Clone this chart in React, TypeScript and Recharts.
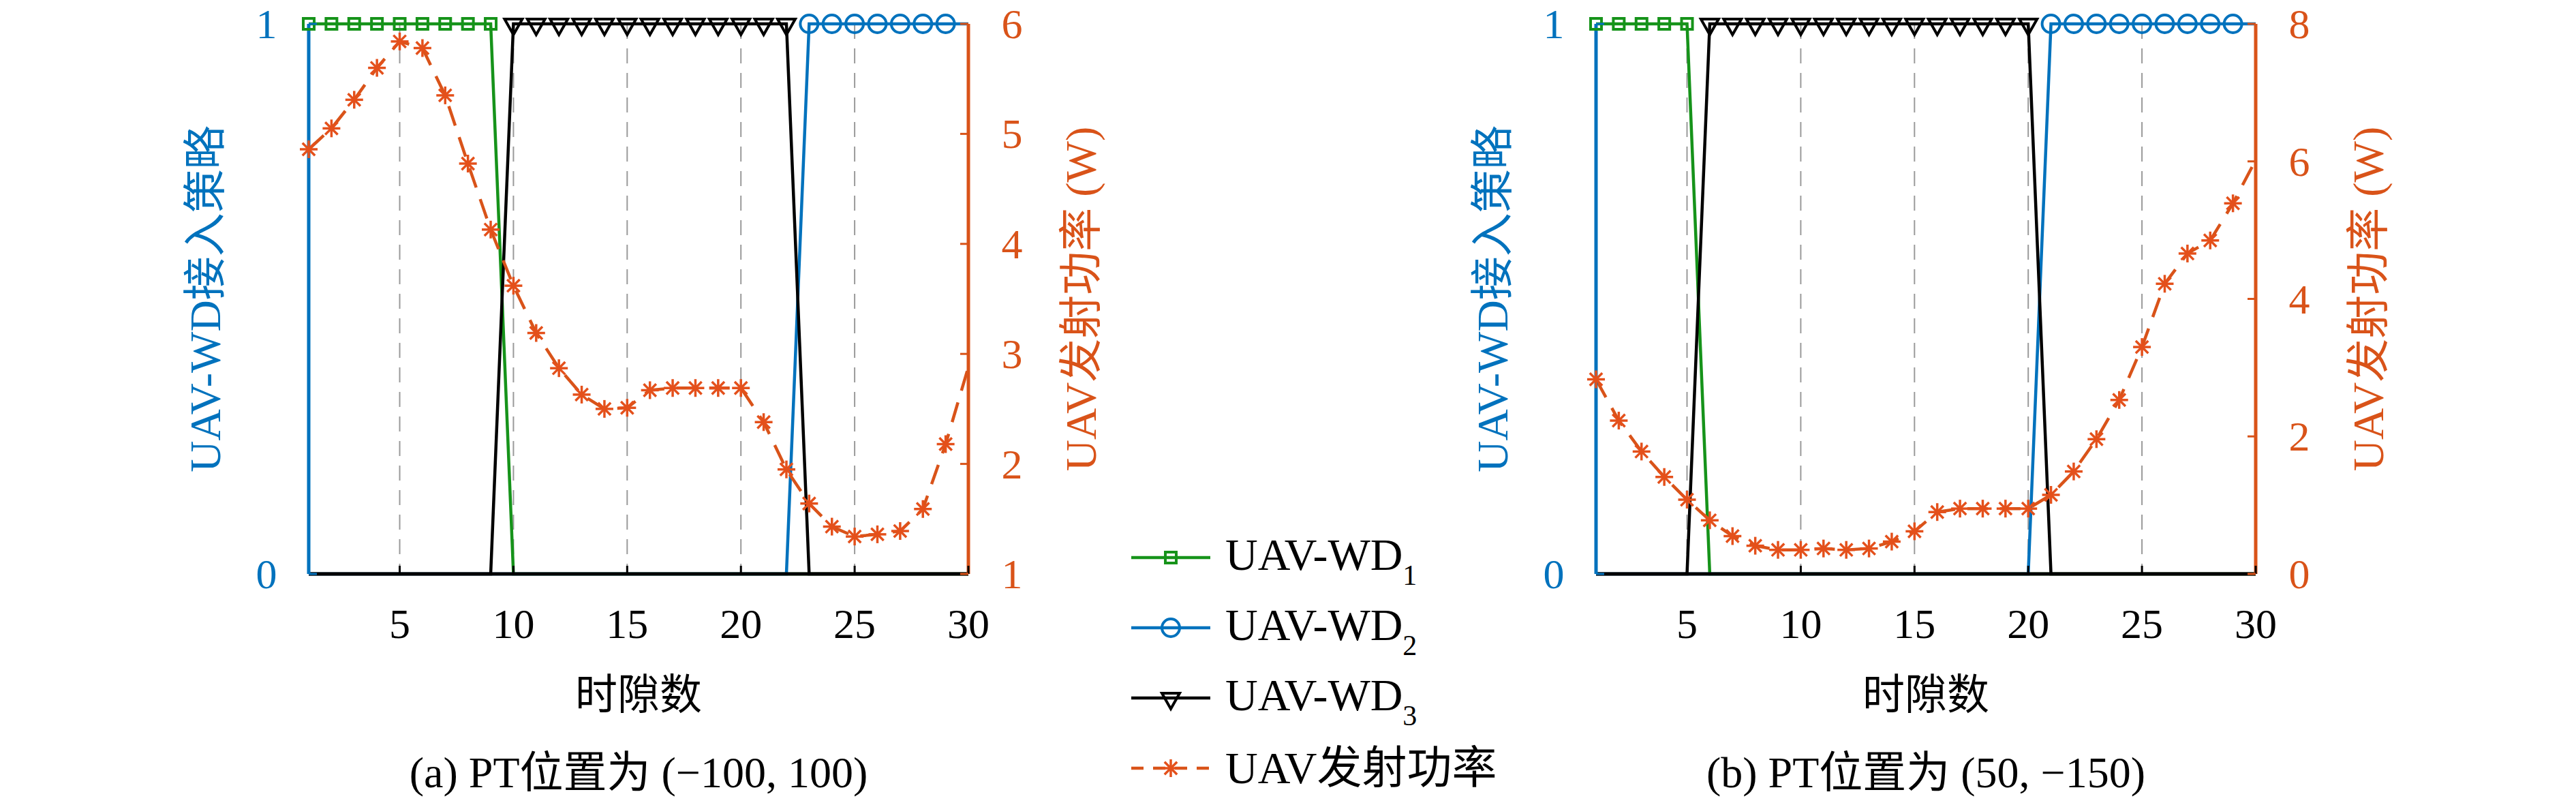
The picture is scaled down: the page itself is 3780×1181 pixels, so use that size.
import React from "react";
import {
  ComposedChart,
  Line,
  XAxis,
  YAxis,
  CartesianGrid,
  Legend,
  Label,
} from "recharts";

// time slots 1..30
const SLOTS = [
  1, 2, 3, 4, 5, 6, 7, 8, 9, 10, 11, 12, 13, 14, 15, 16, 17, 18, 19, 20, 21,
  22, 23, 24, 25, 26, 27, 28, 29, 30,
];

// (a) PT at (-100, 100)
const WD1_A = [1, 1, 1, 1, 1, 1, 1, 1, 1, 0, 0, 0, 0, 0, 0, 0, 0, 0, 0, 0, 0, 0, 0, 0, 0, 0, 0, 0, 0, 0];
const WD2_A = [0, 0, 0, 0, 0, 0, 0, 0, 0, 0, 0, 0, 0, 0, 0, 0, 0, 0, 0, 0, 0, 0, 1, 1, 1, 1, 1, 1, 1, 1];
const WD3_A = [0, 0, 0, 0, 0, 0, 0, 0, 0, 1, 1, 1, 1, 1, 1, 1, 1, 1, 1, 1, 1, 1, 0, 0, 0, 0, 0, 0, 0, 0];
const POWER_A = [
  4.86, 5.05, 5.31, 5.6, 5.84, 5.78, 5.35, 4.73, 4.13, 3.62, 3.19, 2.87, 2.63,
  2.5, 2.51, 2.67, 2.69, 2.69, 2.69, 2.69, 2.38, 1.95, 1.64, 1.43, 1.34, 1.36,
  1.39, 1.59, 2.18, 2.88,
];

// (b) PT at (50, -150)
const WD1_B = [1, 1, 1, 1, 1, 0, 0, 0, 0, 0, 0, 0, 0, 0, 0, 0, 0, 0, 0, 0, 0, 0, 0, 0, 0, 0, 0, 0, 0, 0];
const WD2_B = [0, 0, 0, 0, 0, 0, 0, 0, 0, 0, 0, 0, 0, 0, 0, 0, 0, 0, 0, 0, 1, 1, 1, 1, 1, 1, 1, 1, 1, 1];
const WD3_B = [0, 0, 0, 0, 0, 1, 1, 1, 1, 1, 1, 1, 1, 1, 1, 1, 1, 1, 1, 1, 0, 0, 0, 0, 0, 0, 0, 0, 0, 0];
const POWER_B = [
  2.83, 2.23, 1.78, 1.41, 1.08, 0.78, 0.55, 0.41, 0.35, 0.35, 0.37, 0.35, 0.37,
  0.47, 0.62, 0.9, 0.95, 0.95, 0.95, 0.95, 1.15, 1.49, 1.96, 2.53, 3.3, 4.22,
  4.66, 4.85, 5.39, 6.02,
];

const X_TICKS = [5, 10, 15, 20, 25, 30];
const LEFT_TICKS = [0, 1];
const RIGHT_TICKS_A = [1, 2, 3, 4, 5, 6];
const RIGHT_TICKS_B = [0, 2, 4, 6, 8];

const SERIES_NAMES = ["UAV-WD1", "UAV-WD2", "UAV-WD3", "UAV发射功率"];
const LEFT_TITLE = "UAV-WD接入策略";
const RIGHT_TITLE = "UAV发射功率 (W)";
const X_TITLE = "时隙数";
const CAPTION_A = "(a) PT位置为 (−100, 100)";
const CAPTION_B = "(b) PT位置为 (50, −150)";

const GREEN = "#16931a";
const BLUE = "#0072BD";
const BLACK = "#000000";
const ORANGE = "#D95319";
const STAR = "#E4501B";
const FONT = "'Liberation Serif', 'Noto Sans CJK SC', serif";

const TOP = 35;
const PLOT_H = 807;
const PLOT_W = 968;
const LEFT_W = 203;
const RIGHT_W = 229;
const X_H = 339;
const CHART_W = LEFT_W + PLOT_W + RIGHT_W;
const CHART_H = TOP + PLOT_H + X_H;

const square = (cx: number, cy: number, key?: string) => (
  <rect key={key} x={cx - 8} y={cy - 8} width={16} height={16} fill="none" stroke={GREEN} strokeWidth={4} />
);
const circle = (cx: number, cy: number, key?: string) => (
  <circle key={key} cx={cx} cy={cy} r={13} fill="none" stroke={BLUE} strokeWidth={4} />
);
const triangle = (cx: number, cy: number, key?: string) => (
  <polygon
    key={key}
    points={`${cx - 13},${cy - 7} ${cx + 13},${cy - 7} ${cx},${cy + 16}`}
    fill="none"
    stroke={BLACK}
    strokeWidth={4}
  />
);
const asterisk = (cx: number, cy: number, key?: string) => {
  const r = 13;
  const d = r * 0.707;
  return (
    <g key={key} stroke={STAR} strokeWidth={3.5}>
      <line x1={cx - r} y1={cy} x2={cx + r} y2={cy} />
      <line x1={cx} y1={cy - r} x2={cx} y2={cy + r} />
      <line x1={cx - d} y1={cy - d} x2={cx + d} y2={cy + d} />
      <line x1={cx - d} y1={cy + d} x2={cx + d} y2={cy - d} />
    </g>
  );
};

const MARKERS: Record<string, typeof square> = {
  wd1: square,
  wd2: circle,
  wd3: triangle,
  power: asterisk,
};

// markers only on the "1" level and never on the last slot
const binaryDot = (key: string) => (p: any) => {
  if (p.value !== 1 || p.payload.t === 30 || p.cx == null) return <g key={`${key}-${p.index}`} />;
  return MARKERS[key](p.cx, p.cy, `${key}-${p.index}`);
};
const powerDot = (p: any) => {
  if (p.payload.t === 30 || p.cx == null) return <g key={`pw-${p.index}`} />;
  return asterisk(p.cx, p.cy, `pw-${p.index}`);
};

const textStyle = { fontFamily: FONT };

const XTick = ({ x, y, payload }: any) => (
  <g>
    <line x1={x} x2={x} y1={y} y2={y - 12} stroke={BLACK} strokeWidth={3} />
    <text x={x} y={y + 73} textAnchor="middle" dominantBaseline="central" fontSize={62} style={textStyle} fill={BLACK}>
      {payload.value}
    </text>
  </g>
);
const LeftTick = ({ x, y, payload }: any) => (
  <g>
    <line x1={x} x2={x + 12} y1={y} y2={y} stroke={BLUE} strokeWidth={3} />
    <text x={x - 62} y={y} textAnchor="middle" dominantBaseline="central" fontSize={62} style={textStyle} fill={BLUE}>
      {payload.value}
    </text>
  </g>
);
const RightTick = ({ x, y, payload }: any) => (
  <g>
    <line x1={x} x2={x - 12} y1={y} y2={y} stroke={ORANGE} strokeWidth={3} />
    <text x={x + 64} y={y} textAnchor="middle" dominantBaseline="central" fontSize={62} style={textStyle} fill={ORANGE}>
      {payload.value}
    </text>
  </g>
);

const LegendBox = ({ payload }: any) => {
  if (!payload) return null;
  return (
    <div style={{ fontFamily: FONT }}>
      {payload.map((entry: any) => {
        const key = entry.dataKey as string;
        const m = String(entry.value).match(/^(UAV-WD)(\d)$/);
        return (
          <div key={key} style={{ display: "flex", alignItems: "center", height: 103 }}>
            <svg width={116} height={60} style={{ display: "block" }}>
              <line
                x1={0}
                x2={116}
                y1={30}
                y2={30}
                stroke={entry.color}
                strokeWidth={4.5}
                strokeDasharray={key === "power" ? "18 14" : undefined}
              />
              {MARKERS[key](58, 30)}
            </svg>
            <span style={{ marginLeft: 22, fontSize: 66, lineHeight: "66px", whiteSpace: "nowrap" }}>
              {m ? (
                <>
                  {m[1]}
                  <span style={{ fontSize: 42, position: "relative", top: 22 }}>{m[2]}</span>
                </>
              ) : (
                entry.value
              )}
            </span>
          </div>
        );
      })}
    </div>
  );
};

interface PanelProps {
  left: number;
  wd1: number[];
  wd2: number[];
  wd3: number[];
  power: number[];
  rightDomain: [number, number];
  rightTicks: number[];
  caption: string;
  showLegend?: boolean;
}

function Panel({ left, wd1, wd2, wd3, power, rightDomain, rightTicks, caption, showLegend }: PanelProps) {
  const data = SLOTS.map((t, i) => ({ t, wd1: wd1[i], wd2: wd2[i], wd3: wd3[i], power: power[i] }));

  return (
    <div style={{ position: "absolute", left, top: 0, width: CHART_W, height: CHART_H }}>
      <ComposedChart width={CHART_W} height={CHART_H} data={data} margin={{ top: TOP, right: 0, bottom: 0, left: 0 }}>
        <CartesianGrid
          yAxisId="left"
          horizontal={false}
          stroke="#9a9a9a"
          strokeWidth={2}
          strokeDasharray="22 14"
        />
        <XAxis
          dataKey="t"
          type="number"
          domain={[1, 30]}
          ticks={X_TICKS}
          interval={0}
          height={X_H}
          tickSize={0}
          tickMargin={0}
          tickLine={false}
          tick={<XTick />}
          axisLine={{ stroke: BLACK, strokeWidth: 5 }}
        >
          <Label
            content={(p: any) => {
              const vb = p.viewBox;
              const cx = vb.x + vb.width / 2;
              return (
                <g style={textStyle} fill={BLACK} textAnchor="middle">
                  <text x={cx} y={vb.y + 178} dominantBaseline="central" fontSize={62} style={textStyle}>
                    {X_TITLE}
                  </text>
                  <text x={cx} y={vb.y + 291} dominantBaseline="central" fontSize={64} style={textStyle}>
                    {caption}
                  </text>
                </g>
              );
            }}
          />
        </XAxis>
        <YAxis
          yAxisId="left"
          domain={[0, 1]}
          ticks={LEFT_TICKS}
          interval={0}
          width={LEFT_W}
          tickSize={0}
          tickMargin={0}
          tickLine={false}
          tick={<LeftTick />}
          axisLine={{ stroke: BLUE, strokeWidth: 5 }}
        >
          <Label
            content={(p: any) => {
              const vb = p.viewBox;
              const cx = vb.x + vb.width - 152;
              const cy = vb.y + vb.height / 2;
              return (
                <text
                  x={cx}
                  y={cy}
                  transform={`rotate(-90, ${cx}, ${cy})`}
                  textAnchor="middle"
                  dominantBaseline="central"
                  fontSize={64}
                  style={textStyle}
                  fill={BLUE}
                >
                  {LEFT_TITLE}
                </text>
              );
            }}
          />
        </YAxis>
        <YAxis
          yAxisId="right"
          orientation="right"
          domain={rightDomain}
          ticks={rightTicks}
          interval={0}
          width={RIGHT_W}
          tickSize={0}
          tickMargin={0}
          tickLine={false}
          tick={<RightTick />}
          axisLine={{ stroke: ORANGE, strokeWidth: 5 }}
        >
          <Label
            content={(p: any) => {
              const vb = p.viewBox;
              const cx = vb.x + 165;
              const cy = vb.y + vb.height / 2;
              return (
                <text
                  x={cx}
                  y={cy}
                  transform={`rotate(-90, ${cx}, ${cy})`}
                  textAnchor="middle"
                  dominantBaseline="central"
                  fontSize={64}
                  style={textStyle}
                  fill={ORANGE}
                >
                  {RIGHT_TITLE}
                </text>
              );
            }}
          />
        </YAxis>
        <Line
          yAxisId="left"
          type="linear"
          dataKey="wd1"
          name={SERIES_NAMES[0]}
          stroke={GREEN}
          strokeWidth={4.5}
          dot={binaryDot("wd1")}
          activeDot={false}
          isAnimationActive={false}
        />
        <Line
          yAxisId="left"
          type="linear"
          dataKey="wd2"
          name={SERIES_NAMES[1]}
          stroke={BLUE}
          strokeWidth={4.5}
          dot={binaryDot("wd2")}
          activeDot={false}
          isAnimationActive={false}
        />
        <Line
          yAxisId="left"
          type="linear"
          dataKey="wd3"
          name={SERIES_NAMES[2]}
          stroke={BLACK}
          strokeWidth={4.5}
          dot={binaryDot("wd3")}
          activeDot={false}
          isAnimationActive={false}
        />
        <Line
          yAxisId="right"
          type="linear"
          dataKey="power"
          name={SERIES_NAMES[3]}
          stroke={ORANGE}
          strokeWidth={4.5}
          strokeDasharray="30 18"
          dot={powerDot}
          activeDot={false}
          isAnimationActive={false}
        />
        {showLegend && (
          <Legend
            layout="vertical"
            align="center"
            verticalAlign="middle"
            content={<LegendBox />}
            wrapperStyle={{ left: 1410, top: 766, width: 700, height: 420 }}
          />
        )}
      </ComposedChart>
    </div>
  );
}

export default function App() {
  return (
    <div
      style={{
        position: "absolute",
        left: 0,
        top: 0,
        width: 3780,
        height: 1181,
        background: "#ffffff",
        overflow: "hidden",
      }}
    >
      <Panel
        left={250}
        wd1={WD1_A}
        wd2={WD2_A}
        wd3={WD3_A}
        power={POWER_A}
        rightDomain={[1, 6]}
        rightTicks={RIGHT_TICKS_A}
        caption={CAPTION_A}
        showLegend
      />
      <Panel
        left={2139}
        wd1={WD1_B}
        wd2={WD2_B}
        wd3={WD3_B}
        power={POWER_B}
        rightDomain={[0, 8]}
        rightTicks={RIGHT_TICKS_B}
        caption={CAPTION_B}
      />
    </div>
  );
}
